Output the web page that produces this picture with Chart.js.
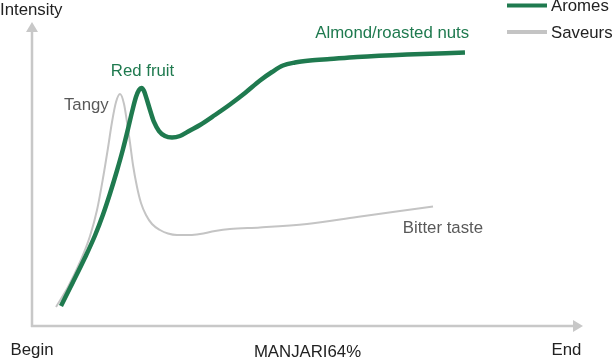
<!DOCTYPE html>
<html><head><meta charset="utf-8">
<script src="https://cdn.jsdelivr.net/npm/chart.js@4"></script>
<style>html,body{margin:0;padding:0;background:#fff}#wrap{width:612px;height:358px;position:relative}</style>
</head><body><div id="wrap"><canvas id="c"></canvas></div>
<script>
// ---- data (time 0-100, intensity 0-100) ----
const aromesX = [5.26, 7.44, 9.62, 11.43, 12.89, 14.16, 15.43, 16.52, 17.42, 18.15, 18.87, 19.42, 19.87, 20.33, 20.87, 21.42, 22.14, 23.05, 24.14, 25.41, 26.86, 28.68, 30.49, 33.21, 35.93, 38.66, 41.38, 43.56, 45.55, 47.73, 50.45, 54.08, 58.98, 68.06, 78.58];
const aromesY = [6.58, 14.47, 22.53, 29.77, 36.68, 43.59, 51.15, 58.22, 64.80, 70.39, 75.33, 77.63, 78.29, 77.30, 74.34, 71.05, 67.11, 64.14, 62.50, 62.01, 62.50, 64.31, 66.12, 69.41, 72.86, 76.64, 80.76, 83.55, 85.69, 86.68, 87.34, 87.83, 88.49, 89.31, 89.97];
const saveursX = [4.36, 6.53, 8.71, 10.53, 11.80, 12.89, 13.79, 14.52, 15.25, 15.97, 16.70, 17.24, 17.79, 18.33, 19.06, 19.78, 20.69, 21.78, 23.23, 24.68, 26.32, 28.68, 30.49, 33.21, 35.93, 41.38, 49.91, 58.98, 66.79, 72.78];
const saveursY = [6.25, 12.83, 21.05, 29.61, 38.16, 48.68, 58.55, 67.11, 73.68, 76.32, 73.03, 67.11, 60.20, 52.96, 45.72, 40.46, 36.51, 33.55, 31.58, 30.43, 29.93, 29.93, 30.26, 31.25, 31.91, 32.40, 33.55, 35.86, 37.83, 39.31];
const seriesNames = ['Aromes', 'Saveurs'];
const xTickValues = [0, 97];
const xTickLabels = ['Begin', 'End'];
const xAxisTitle = 'MANJARI64%';
const yAxisTitle = 'Intensity';
const noteTexts = ['Red fruit', 'Tangy', 'Almond/roasted nuts', 'Bitter taste'];

// ---- styling / placement ----
const GREEN = '#1f7a4f', GRAY = '#c4c4c4', AXIS = '#c8c8c8';
const FONT = '"Liberation Sans", Arial, Helvetica, sans-serif';
const noteStyle = [
  {x: 14.3, y: 82.2, color: GREEN},
  {x: 5.8,  y: 71.1, color: '#595959'},
  {x: 51.4, y: 94.7, color: GREEN},
  {x: 67.3, y: 30.6, color: '#595959'}
];

const decor = {
  id: 'decor',
  beforeDatasetsDraw(chart) {
    const ctx = chart.ctx, xs = chart.scales.x, ys = chart.scales.y;
    const x0 = xs.getPixelForValue(0), y0 = ys.getPixelForValue(0);
    const xEnd = xs.getPixelForValue(100), yTop = ys.getPixelForValue(100);
    ctx.save();
    ctx.strokeStyle = AXIS; ctx.fillStyle = AXIS; ctx.lineWidth = 2.5;
    ctx.beginPath();
    ctx.moveTo(x0, y0 + 1); ctx.lineTo(x0, yTop + 8);
    ctx.moveTo(x0 - 1, y0); ctx.lineTo(xEnd - 8, y0);
    ctx.stroke();
    ctx.beginPath();
    ctx.moveTo(x0, yTop); ctx.lineTo(x0 - 6, yTop + 10); ctx.lineTo(x0 + 6, yTop + 10); ctx.closePath();
    ctx.fill();
    ctx.beginPath();
    ctx.moveTo(xEnd, y0); ctx.lineTo(xEnd - 10, y0 - 6); ctx.lineTo(xEnd - 10, y0 + 6); ctx.closePath();
    ctx.fill();
    ctx.restore();
  },
  afterDatasetsDraw(chart) {
    const ctx = chart.ctx, xs = chart.scales.x, ys = chart.scales.y;
    ctx.save();
    ctx.font = '16.8px ' + FONT;
    ctx.textBaseline = 'alphabetic';
    // tick labels
    ctx.fillStyle = '#222'; ctx.textAlign = 'center';
    xTickValues.forEach((v, i) => ctx.fillText(xTickLabels[i], xs.getPixelForValue(v), 355));
    ctx.fillText(xAxisTitle, (xs.left + xs.right) / 2, 357);
    ctx.textAlign = 'left';
    ctx.fillText(yAxisTitle, 0, 15);
    // notes
    noteTexts.forEach((t, i) => {
      const s = noteStyle[i];
      ctx.fillStyle = s.color;
      ctx.fillText(t, xs.getPixelForValue(s.x), ys.getPixelForValue(s.y));
    });
    // legend
    const dsets = chart.data.datasets;
    dsets.forEach((d, i) => {
      const yy = 5.5 + i * 26.5;
      ctx.fillStyle = d.borderColor;
      ctx.fillRect(507, yy - 2, 40, 4);
      ctx.fillStyle = '#222'; ctx.textBaseline = 'middle';
      ctx.fillText(d.label, 551, yy + 1);
    });
    ctx.restore();
  }
};

const toPts = (xa, ya) => xa.map((x, i) => ({x: x, y: ya[i]}));

new Chart(document.getElementById('c'), {
  type: 'line',
  data: {
    datasets: [
      {label: seriesNames[0], data: toPts(aromesX, aromesY), borderColor: GREEN, borderWidth: 4.5, pointRadius: 0, cubicInterpolationMode: 'monotone', fill: false},
      {label: seriesNames[1], data: toPts(saveursX, saveursY), borderColor: GRAY, borderWidth: 2, pointRadius: 0, cubicInterpolationMode: 'monotone', fill: false}
    ]
  },
  options: {
    responsive: true, maintainAspectRatio: false, animation: false,
    layout: {padding: {left: 32, right: 29, top: 22, bottom: 32}},
    scales: {
      x: {type: 'linear', min: 0, max: 100, display: false},
      y: {type: 'linear', min: 0, max: 100, display: false}
    },
    plugins: {legend: {display: false}, tooltip: {enabled: false}},
    elements: {line: {borderCapStyle: 'butt'}}
  },
  plugins: [decor]
});
</script>
</body></html>
